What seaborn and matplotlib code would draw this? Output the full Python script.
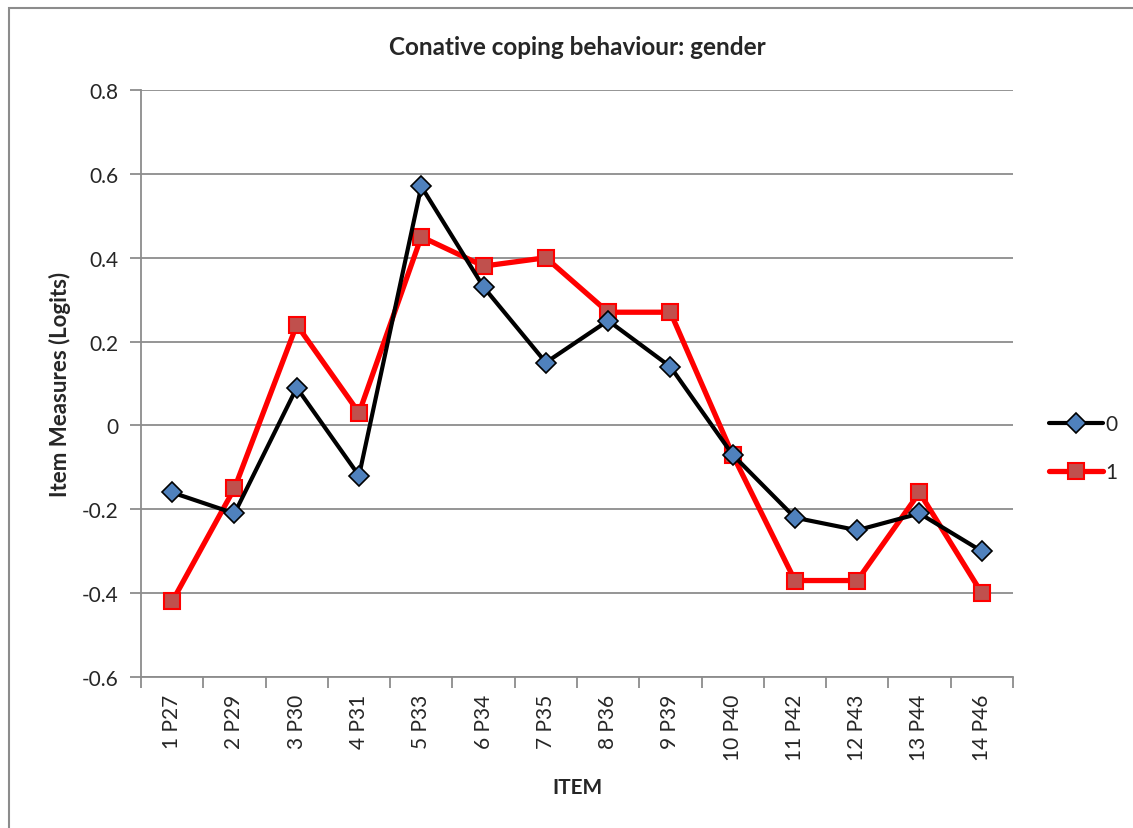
import matplotlib
matplotlib.use("Agg")
import matplotlib.pyplot as plt
from matplotlib.lines import Line2D
from matplotlib.patches import Rectangle
import seaborn as sns
import pandas as pd

items = ["1 P27", "2 P29", "3 P30", "4 P31", "5 P33", "6 P34", "7 P35",
         "8 P36", "9 P39", "10 P40", "11 P42", "12 P43", "13 P44", "14 P46"]
group_0 = [-0.16, -0.21, 0.09, -0.12, 0.57, 0.33, 0.15,
           0.25, 0.14, -0.07, -0.22, -0.25, -0.21, -0.30]
group_1 = [-0.42, -0.15, 0.24, 0.03, 0.45, 0.38, 0.40,
           0.27, 0.27, -0.07, -0.37, -0.37, -0.16, -0.40]
y_ticks = [-0.6, -0.4, -0.2, 0, 0.2, 0.4, 0.6, 0.8]
y_tick_labels = ["-0.6", "-0.4", "-0.2", "0", "0.2", "0.4", "0.6", "0.8"]

sns.set_theme(style="white")
plt.rcParams["font.family"] = ["Lato", "DejaVu Sans"]

df = pd.DataFrame({
    "pos": list(range(len(items))) * 2,
    "value": group_0 + group_1,
    "gender": ["0"] * len(items) + ["1"] * len(items),
})

fig = plt.figure(figsize=(11.33, 8.29), dpi=100)
ax = fig.add_axes([0.1245, 0.1822, 0.7695, 0.708])

grid_col = "#8c8c8c"
styles = {
    "0": dict(color="black", lw=3.0, marker="D", ms=10, mfc="#4f81bd",
              mec="black", mew=1.2, zorder=3),
    "1": dict(color="#ff0000", lw=3.8, marker="s", ms=12, mfc="#c0504d",
              mec="#ff0000", mew=1.5, zorder=2),
}
for g in ["1", "0"]:
    sub = df[df["gender"] == g]
    st = styles[g]
    sns.lineplot(data=sub, x="pos", y="value", ax=ax, color=st["color"],
                 linewidth=st["lw"], marker=st["marker"], markersize=st["ms"],
                 markerfacecolor=st["mfc"], markeredgecolor=st["mec"],
                 markeredgewidth=st["mew"], zorder=st["zorder"], legend=False)

ax.set_xlim(-0.5, len(items) - 0.5)
ax.set_ylim(-0.6, 0.8)
ax.set_yticks(y_ticks)
ax.set_yticklabels(y_tick_labels)
ax.yaxis.grid(True, color=grid_col, lw=1.3)
ax.xaxis.grid(False)
ax.set_axisbelow(True)

ax.set_xticks(range(len(items)))
ax.set_xticklabels(items, rotation=90)
ax.set_xticks([i - 0.5 for i in range(len(items) + 1)], minor=True)
ax.tick_params(axis="x", which="major", length=0, pad=12, labelsize=15)
ax.tick_params(axis="x", which="minor", length=8, width=1.3, color=grid_col,
               direction="out", bottom=True)
ax.tick_params(axis="y", length=8, width=1.3, color=grid_col, direction="out",
               left=True, labelsize=15, pad=8)

for side in ["top", "right"]:
    ax.spines[side].set_visible(False)
for side in ["left", "bottom"]:
    ax.spines[side].set_color(grid_col)
    ax.spines[side].set_linewidth(1.3)

ax.set_xlabel("ITEM", fontsize=15, fontweight="bold", labelpad=12)
ax.set_ylabel("Item Measures (Logits)", fontsize=16, fontweight="bold",
              labelpad=8)
ax.set_title("Conative coping behaviour: gender", fontsize=17.5,
             fontweight="bold", pad=26)

handles = [
    Line2D([], [], color=styles[g]["color"], lw=styles[g]["lw"],
           marker=styles[g]["marker"], ms=styles[g]["ms"],
           mfc=styles[g]["mfc"], mec=styles[g]["mec"], mew=styles[g]["mew"])
    for g in ["0", "1"]
]
ax.legend(handles, ["0", "1"], loc="center left", bbox_to_anchor=(1.02, 0.39),
          frameon=False, fontsize=15, handlelength=2.6, handletextpad=0.1,
          labelspacing=1.35)

fig.patches.append(Rectangle((9 / 1133, -0.1), 1.2, 1 - 9 / 829 + 0.1,
                             transform=fig.transFigure, fill=False,
                             edgecolor=grid_col, lw=1.5))

fig.savefig("out.png", dpi=100)
